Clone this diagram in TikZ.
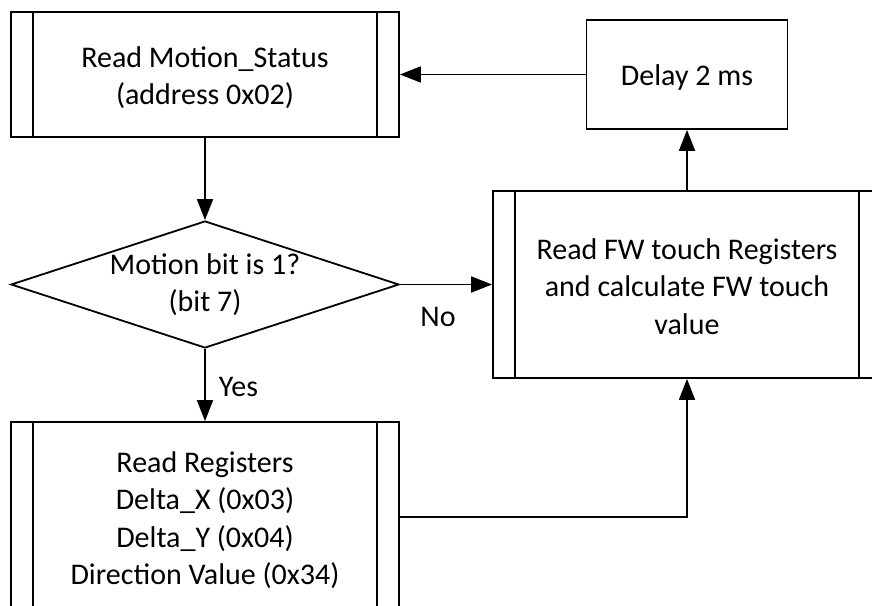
\documentclass[tikz,border=0pt]{standalone}
\usepackage{fontspec}
\setmainfont{Carlito}
\usetikzlibrary{shapes.geometric,arrows.meta}

\begin{document}
\begin{tikzpicture}[x=1pt,y=-1pt,line width=1.8pt,
  every node/.style={font=\fontsize{30}{37.5}\selectfont,inner sep=0pt,align=center},
  plainbox/.style={draw,rectangle},
  subproc/.style={draw,rectangle,
    path picture={
      \draw ([xshift=22pt]path picture bounding box.north west) -- ([xshift=22pt]path picture bounding box.south west);
      \draw ([xshift=-22pt]path picture bounding box.north east) -- ([xshift=-22pt]path picture bounding box.south east);
    }},
  decision/.style={draw,diamond},
  flow/.style={-{Triangle[length=21pt,width=16pt]}}]

  \useasboundingbox (0,0) rectangle (872,605);
  \clip (0,0) rectangle (872,605);

  % process steps (shapes)
  \node[subproc,minimum width=388pt,minimum height=125pt] (rdstat) at (205,74.5) {};
  \node[plainbox,minimum width=201pt,minimum height=109pt] (delay) at (687,74.5) {};
  \node[decision,minimum width=388pt,minimum height=127pt] (test) at (205,284.5) {};
  \node[subproc,minimum width=388pt,minimum height=187pt] (fwread) at (687,284.5) {};
  \node[subproc,minimum width=388pt,minimum height=190pt] (rdreg) at (205,517) {};

  % step texts
  \node (rdstattxt) at ([yshift=-3pt]rdstat.center) {Read Motion\_Status\\(address 0x02)};
  \node (delaytxt) at ([yshift=-3pt]delay.center) {Delay 2 ms};
  \node (testtxt) at (test.center) {Motion bit is 1?\\(bit 7)};
  \node (fwreadtxt) at ([yshift=-2pt]fwread.center) {Read FW touch Registers\\and calculate FW touch\\value};
  \node (rdregtxt) at ([yshift=-3pt]rdreg.center) {Read Registers\\Delta\_X (0x03)\\Delta\_Y (0x04)\\Direction Value (0x34)};

  % branch labels
  \node[anchor=west] (yes) at (218,387) {Yes};
  \node (no) at (438,317) {No};

  % connectors
  \draw[flow] (rdstat.south) -- (test.north);
  \draw[flow] (test.south) -- (rdreg.north);
  \draw[flow] (test.east) -- (fwread.west);
  \draw[flow] (rdreg.east) -| (fwread.south);
  \draw[flow] (fwread.north) -- (delay.south);
  \draw[flow] (delay.west) -- (rdstat.east);
\end{tikzpicture}
\end{document}
